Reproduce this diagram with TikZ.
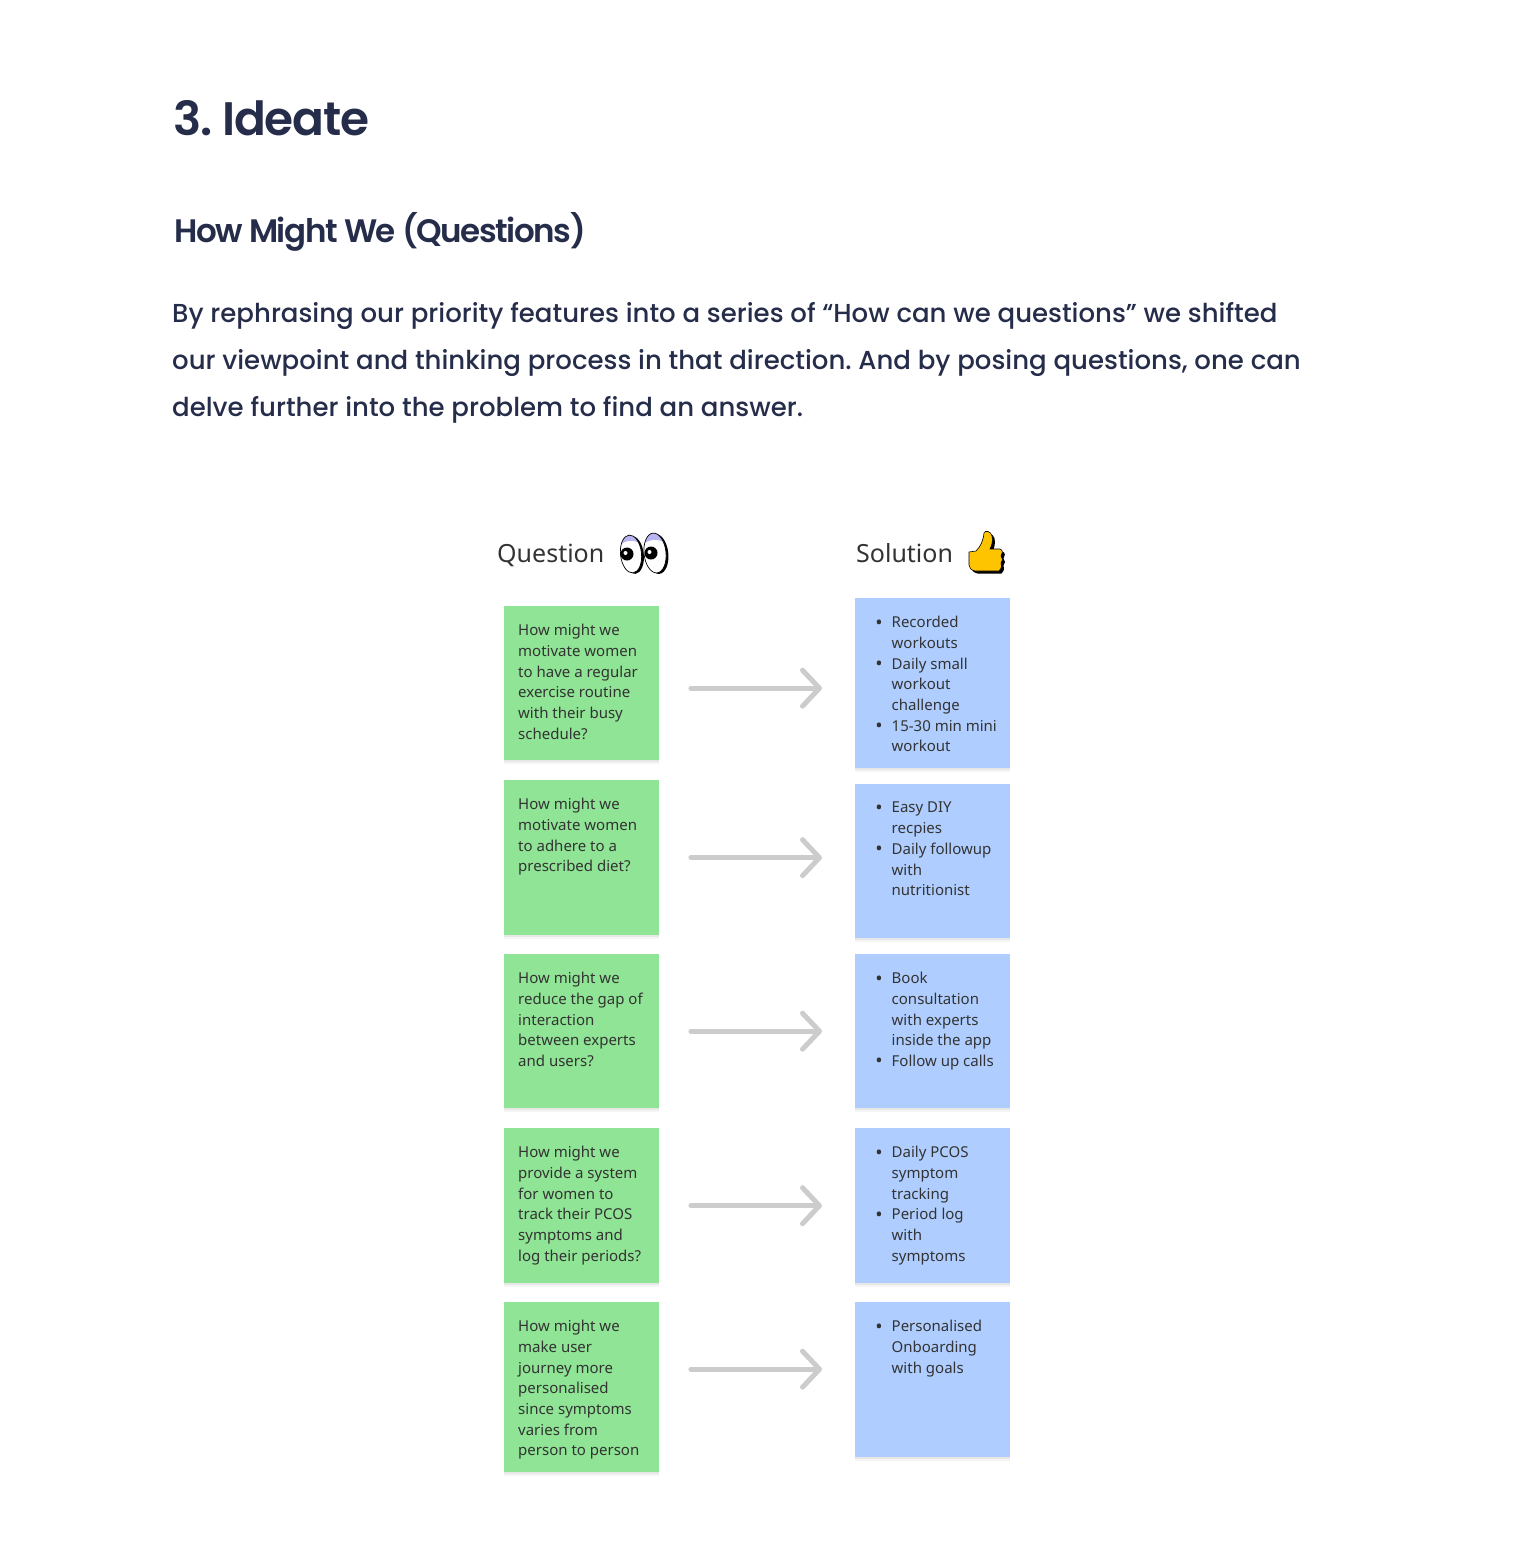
\documentclass[tikz,border=0pt]{standalone}
\usepackage{fontspec}
\setmainfont{Poppins}
\newfontfamily\medfont{Poppins Medium}
\newfontfamily\titlefont[LetterSpace=-2.6]{Poppins SemiBold}
\newfontfamily\subfont[LetterSpace=-4.4]{Poppins SemiBold}
\newfontfamily\noteFont{Noto Sans}
\usetikzlibrary{arrows.meta,shadows}
\definecolor{navy}{HTML}{252D4A}
\definecolor{noteInk}{HTML}{333333}
\definecolor{noteGreen}{HTML}{90E495}
\definecolor{noteBlue}{HTML}{AFCEFF}
\definecolor{arrowGrey}{HTML}{CCCCCC}
\definecolor{lidPurple}{HTML}{B9B5F0}
\definecolor{thumbYellow}{HTML}{FFC400}
\newcommand{\itm}{\llap{\raisebox{-1.5pt}{\scalebox{1.3}{\textbullet}}\hspace{9pt}}}
\tikzset{
 sticky/.style={anchor=north west,minimum width=155pt,inner sep=0pt,
  drop shadow={shadow xshift=0pt,shadow yshift=-2pt,opacity=.06,fill=black},
  drop shadow={shadow xshift=0pt,shadow yshift=-4pt,opacity=.04,fill=black}},
 notetext/.style={anchor=north west,inner sep=0pt,align=left,text=noteInk,font=\noteFont\fontsize{15}{20.7}\selectfont},
 colhead/.style={anchor=base west,inner sep=0pt,text=noteInk,font=\noteFont\fontsize{25}{30}\selectfont},
 flow/.style={draw=arrowGrey,line width=5pt,line cap=round,-{Straight Barb[length=17pt,width=36pt,round]}}
}
\begin{document}
\begin{tikzpicture}[x=1pt,y=-1pt]
\useasboundingbox (0,0) rectangle (1513,1567);
\node[anchor=base west,inner sep=0pt,text=navy,font=\titlefont\fontsize{47}{50}\selectfont\frenchspacing] (title) at (173,135) {3. Ideate};
\node[anchor=base west,inner sep=0pt,text=navy,font=\subfont\fontsize{32.5}{36}\selectfont] (subtitle) at (174,242) {How Might We (Questions)};
\node[anchor=north west,inner sep=0pt,align=left,text=navy,font=\medfont\fontsize{26}{47}\selectfont\frenchspacing] (intro) at (172,302) {By rephrasing our priority features into a series of “How can we questions” we shifted\\our viewpoint and thinking process in that direction. And by posing questions, one can\\delve further into the problem to find an answer.};
\node[colhead] (qhead) at (497,562.5) {Question};
\node[colhead] (shead) at (856,562.5) {Solution};
% question notes
\foreach \n/\y/\h/\txt in {1/606/154/{How might we\\motivate women\\to have a regular\\exercise routine\\with their busy\\schedule?},
 2/780/155/{How might we\\motivate women\\to adhere to a\\prescribed diet?},
 3/954/154/{How might we\\reduce the gap of\\interaction\\between experts\\and users?},
 4/1128/155/{How might we\\provide a system\\for women to\\track their PCOS\\symptoms and\\log their periods?},
 5/1302/170/{How might we\\make user\\journey more\\personalised\\since symptoms\\varies from\\person to person}}
{
\node[sticky,fill=noteGreen,minimum height=\h pt] (q\n) at (504,\y) {};
\node[notetext] (qt\n) at (518,\y+18) {\txt};
}
% solution notes
\foreach \n/\y/\h/\txt in {1/598/170/{\itm Recorded\\workouts\\\itm Daily small\\workout\\challenge\\\itm 15-30 min mini\\workout},
 2/784/154/{\itm Easy DIY\\recpies\\\itm Daily followup\\with\\nutritionist},
 3/954/154/{\itm Book\\consultation\\with experts\\inside the app\\\itm Follow up calls},
 4/1128/155/{\itm Daily PCOS\\symptom\\tracking\\\itm Period log\\with\\symptoms},
 5/1302/155/{\itm Personalised\\Onboarding\\with goals}}
{
\node[sticky,fill=noteBlue,minimum height=\h pt] (s\n) at (855,\y) {};
\node[notetext] (st\n) at (891.5,\y+18) {\txt};
}
% arrows
\foreach \n/\d in {1/5,2/0,3/0,4/0,5/-18}
{
\coordinate (a\n) at ([shift={(31.5,\d)}]q\n.east);
\coordinate (b\n) at ([xshift=-33pt]a\n -| s\n.west);
\draw[flow] (a\n) -- (b\n);
}
% eyes
\foreach \cx/\cy/\rx/\ry in {631/554/10.5/19,655/553/11/20}
{
\fill[black,rotate around={6:(\cx,\cy)}] (\cx+2.2,\cy+1.2) ellipse [x radius=\rx,y radius=\ry];
\begin{scope}
\clip[rotate around={6:(\cx,\cy)}] (\cx,\cy) ellipse [x radius=\rx,y radius=\ry];
\fill[white] (\cx-20,\cy-25) rectangle (\cx+20,\cy+25);
\fill[lidPurple] (\cx-\rx-2,\cy-8) .. controls (\cx-4,\cy-15) and (\cx+4,\cy-15) .. (\cx+\rx+2,\cy-8) -- (\cx+\rx+2,\cy-\ry-3) -- (\cx-\rx-2,\cy-\ry-3) -- cycle;
\end{scope}
\draw[black,line width=.7pt,rotate around={6:(\cx,\cy)}] (\cx,\cy) ellipse [x radius=\rx,y radius=\ry];
\fill[black] (\cx-4,\cy) circle (6.5);
\fill[white] (\cx-5.5,\cy-1) circle (2);
}
% thumb
\def\thumbshape{(969,552) -- (976,551) .. controls (981,546) and (983,541) .. (984,533) .. controls (985,530) and (991,531) .. (992,536) .. controls (993,541) and (992,545) .. (990,549) -- (1000,549) .. controls (1003,550) and (1003,554) .. (1001,556) .. controls (1003,558) and (1003,561) .. (1001,563) .. controls (1002,565) and (1002,568) .. (999,571) -- (975,571) .. controls (971,570) and (969,568) .. (969,565) -- cycle}
\fill[black,shift={(2.5,2.5)}] \thumbshape;
\draw[black,fill=thumbYellow,line width=.6pt] \thumbshape;
\end{tikzpicture}
\end{document}
